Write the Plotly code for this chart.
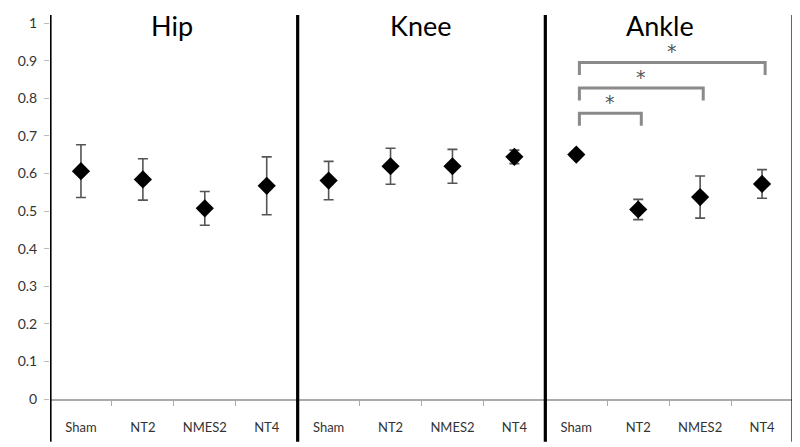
import plotly.graph_objects as go

groups = ["Sham", "NT2", "NMES2", "NT4"]
joints = ["Hip", "Knee", "Ankle"]
hip_mean = [0.606, 0.584, 0.507, 0.567]
hip_err = [0.070, 0.055, 0.045, 0.077]
knee_mean = [0.581, 0.619, 0.619, 0.644]
knee_err = [0.051, 0.048, 0.045, 0.018]
ankle_mean = [0.650, 0.504, 0.537, 0.572]
ankle_err = [0.008, 0.027, 0.056, 0.038]
# significance brackets in Ankle panel: (group a, group b, height)
sig_pairs = [(0, 1, 0.760), (0, 2, 0.827), (0, 3, 0.895)]
y_ticks = [0, 0.1, 0.2, 0.3, 0.4, 0.5, 0.6, 0.7, 0.8, 0.9, 1]

means = hip_mean + knee_mean + ankle_mean
errs = hip_err + knee_err + ankle_err
xs = list(range(len(means)))
labels = groups * 3

fig = go.Figure()
fig.add_trace(go.Scatter(
    x=xs, y=means, mode="markers",
    marker=dict(symbol="diamond", size=14, color="black"),
    error_y=dict(type="data", array=errs, visible=True, color="#555555",
                 thickness=1.6, width=5),
    showlegend=False,
))

shapes = []
# thick vertical panel lines
for xv in [-0.5, 3.5, 7.5, 11.5]:
    shapes.append(dict(type="line", xref="x", yref="paper", x0=xv, x1=xv,
                       y0=-0.114, y1=1.021, line=dict(color="black", width=3.2)))
annotations = []
ankle_off = 8
drop = 0.033
for a, b, h in sig_pairs:
    xa, xb = a + ankle_off, b + ankle_off
    shapes.append(dict(type="path", xref="x", yref="y",
                       path=f"M {xa+0.05},{h-drop} L {xa+0.05},{h} L {xb+0.05},{h} L {xb+0.05},{h-drop}",
                       line=dict(color="#8a8a8a", width=3)))
    annotations.append(dict(x=(xa + xb) / 2 + 0.05, y=h + 0.03, xref="x", yref="y",
                            text="*", showarrow=False,
                            font=dict(family="DejaVu Sans", size=19, color="#555555")))
for j, (name, xc) in enumerate(zip(joints, [1.47, 5.48, 9.35])):
    annotations.append(dict(x=xc, y=0.994, xref="x", yref="paper", text=name,
                            showarrow=False, yanchor="middle",
                            font=dict(family="Lato", size=27, color="black")))

fig.update_layout(
    width=792, height=439,
    margin=dict(l=42, r=7, t=15, b=48, autoexpand=False),
    paper_bgcolor="white", plot_bgcolor="white",
    shapes=shapes, annotations=annotations,
    font=dict(family="Lato", color="#333333"),
)
fig.update_xaxes(
    range=[-0.5, 11.5], tickmode="array", tickvals=xs, ticktext=labels,
    ticks="", showgrid=False, zeroline=False,
    showline=True, linecolor="#aaaaaa", linewidth=1.5,
    tickfont=dict(size=13, color="#333333"), ticklabelstandoff=16,
    minor=dict(tickvals=[0.5, 1.5, 2.5, 4.5, 5.5, 6.5, 8.5, 9.5, 10.5],
               ticks="outside", ticklen=5, tickcolor="#aaaaaa", tickwidth=1),
)
fig.update_yaxes(
    range=[0, 1], tickmode="array", tickvals=y_ticks,
    ticktext=[str(v) for v in y_ticks],
    ticks="outside", ticklen=5, tickcolor="#bbbbbb", showgrid=False,
    zeroline=False, showline=False, tickfont=dict(size=14, color="#333333"),
    ticklabelstandoff=4,
)
fig.write_html("out.html")
